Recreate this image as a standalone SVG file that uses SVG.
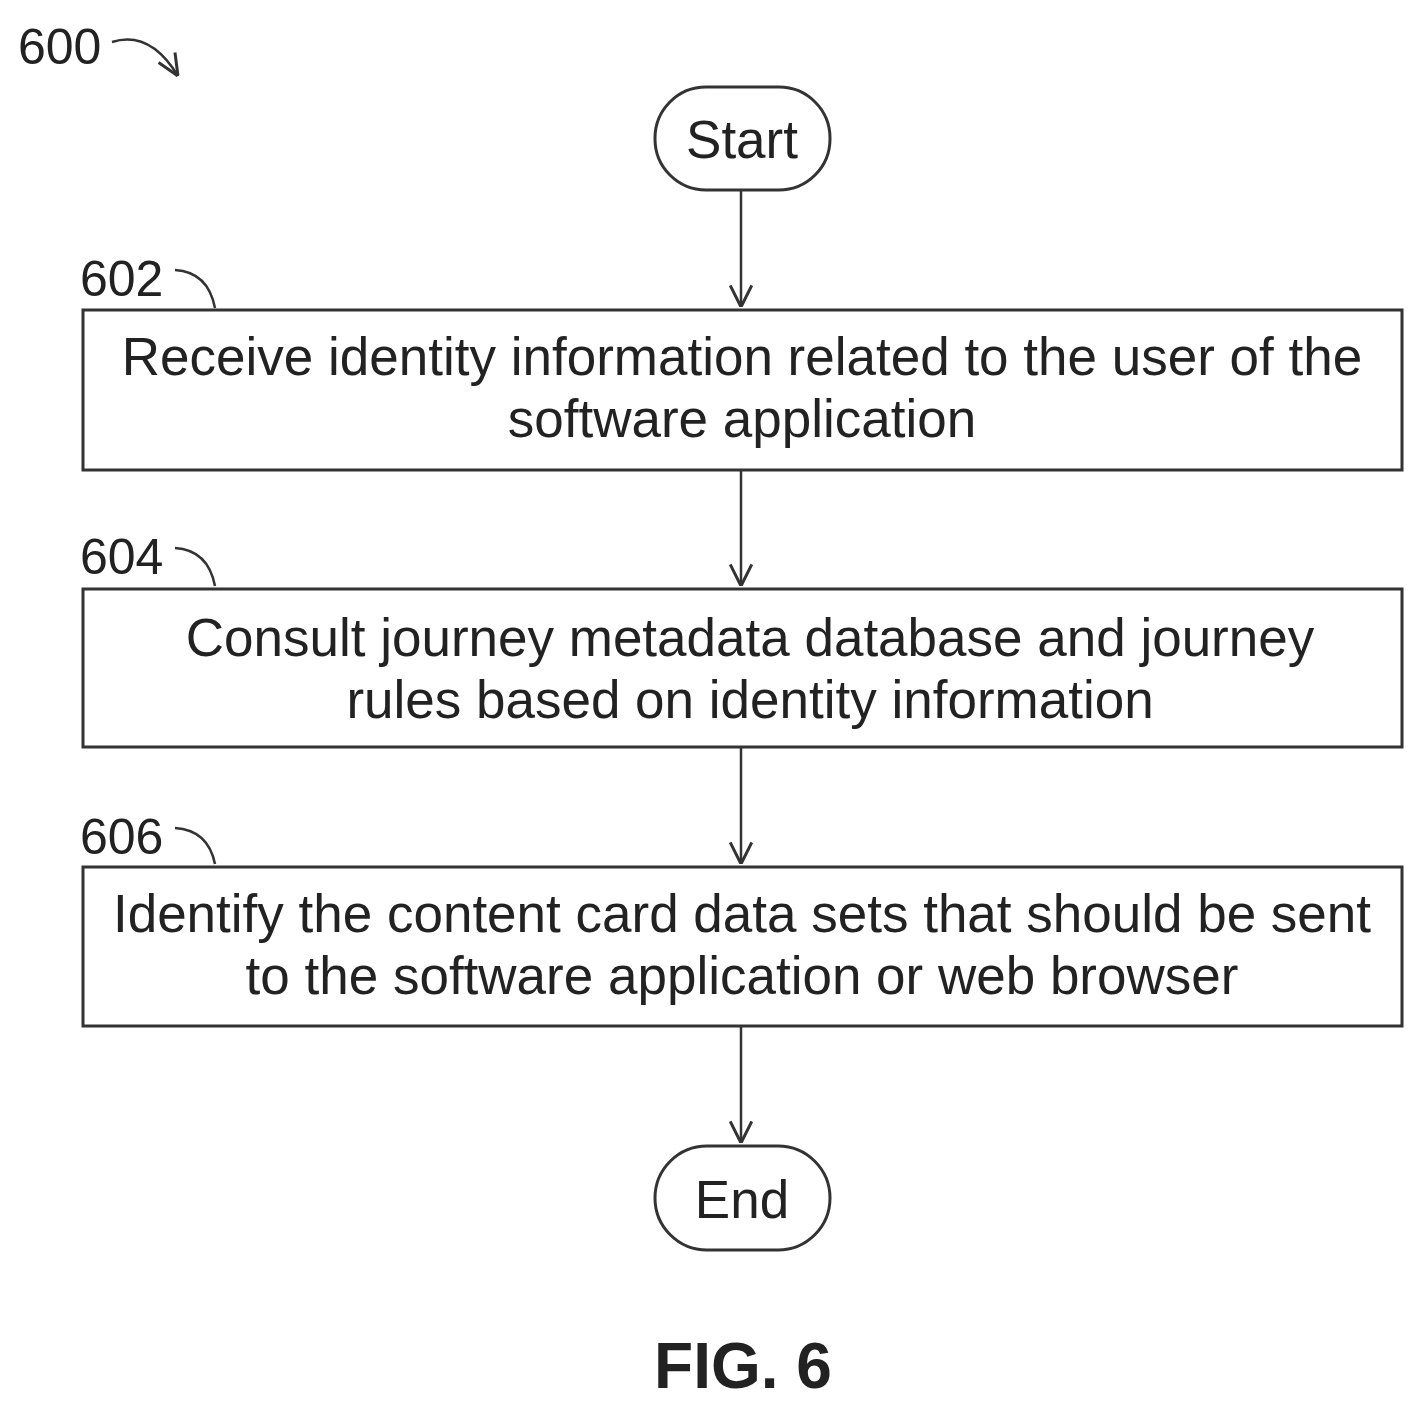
<svg xmlns="http://www.w3.org/2000/svg" width="1424" height="1411" viewBox="0 0 1424 1411">
<style>
.b{fill:none;stroke:#333;stroke-width:3}
.t{font-family:"Liberation Sans",Arial,sans-serif;font-size:53px;fill:#222;text-anchor:middle}
.l{font-family:"Liberation Sans",Arial,sans-serif;font-size:50px;fill:#222}
.c{fill:none;stroke:#333;stroke-width:2.5}
</style>
<defs><marker id="a" viewBox="0 0 20 20" refX="20" refY="10" markerWidth="24" markerHeight="24" markerUnits="userSpaceOnUse" orient="auto"><path d="M2,1L20,10L2,19" fill="none" stroke="#333" stroke-width="2.5"/></marker>
<marker id="h" viewBox="0 0 20 20" refX="20" refY="10" markerWidth="24" markerHeight="24" markerUnits="userSpaceOnUse" orient="auto"><path d="M2,2L20,10L2,18" fill="none" stroke="#333" stroke-width="2.5"/></marker></defs>
<rect width="1424" height="1411" fill="#fff"/>
<g id="label600"><text class="l" x="18" y="64">600</text><path class="c" d="M112,42 Q150,30 178,76" marker-end="url(#h)"/></g>
<g id="start"><rect class="b" x="655" y="87" width="175" height="103" rx="51"/><text class="t" x="742" y="158">Start</text></g>
<g id="n602"><text class="l" x="80" y="296">602</text><path class="c" d="M175,270 Q208,272 215,308"/><rect class="b" x="83" y="310" width="1319" height="160"/><text class="t" x="742" y="375">Receive identity information related to the user of the</text><text class="t" x="742" y="437">software application</text></g>
<g id="n604"><text class="l" x="80" y="574">604</text><path class="c" d="M175,548 Q208,550 215,586"/><rect class="b" x="83" y="589" width="1319" height="158"/><text class="t" x="750" y="656">Consult journey metadata database and journey</text><text class="t" x="750" y="718">rules based on identity information</text></g>
<g id="n606"><text class="l" x="80" y="854">606</text><path class="c" d="M175,828 Q208,830 215,864"/><rect class="b" x="83" y="867" width="1319" height="159"/><text class="t" x="742" y="932">Identify the content card data sets that should be sent</text><text class="t" x="742" y="994">to the software application or web browser</text></g>
<g id="end"><rect class="b" x="655" y="1146" width="175" height="104" rx="52"/><text class="t" x="742" y="1218">End</text></g>
<g id="connectors" class="c"><path d="M741,190V307" marker-end="url(#a)"/><path d="M741,470V586" marker-end="url(#a)"/><path d="M741,747V864" marker-end="url(#a)"/><path d="M741,1026V1143" marker-end="url(#a)"/></g>
<text x="743" y="1388" style="font-family:'Liberation Sans',Arial,sans-serif;font-size:64px;font-weight:bold;fill:#222;text-anchor:middle">FIG. 6</text>
</svg>
